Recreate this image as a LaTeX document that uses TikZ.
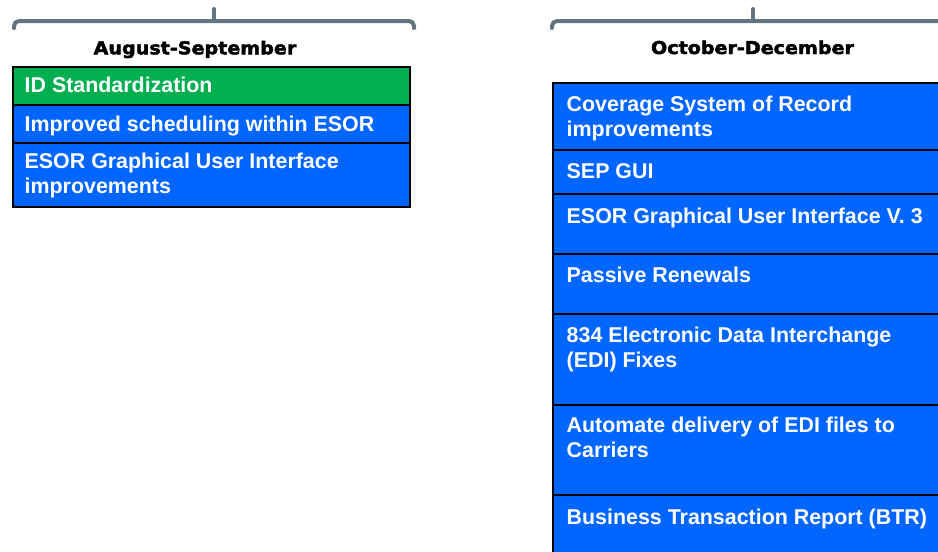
\documentclass[tikz,border=0pt]{standalone}
\usepackage{fontspec}
\setmainfont{Liberation Sans}
\newfontfamily\titlefont{DejaVu Sans}[FakeStretch=1.08,FakeBold=2.5]
\definecolor{cgreen}{HTML}{00B050}
\definecolor{cblue}{HTML}{0066FF}
\definecolor{cbrace}{HTML}{617480}
\begin{document}
\begin{tikzpicture}[x=1pt,y=-1pt,
  cell/.style={draw=black, line width=2pt, anchor=north west, inner sep=0pt, outer sep=0pt},
  lcell/.style={cell, minimum width=397pt},
  rcell/.style={cell, fill=cblue, minimum width=420pt},
  celltext/.style={anchor=base west, inner sep=0pt, text=white, font=\fontsize{21.4}{25.7}\selectfont\bfseries, align=left},
  title/.style={anchor=base, inner sep=0pt, font=\titlefont\fontsize{17.7}{20}\selectfont\bfseries},
  brace/.style={draw=cbrace, line width=4pt, line cap=round, rounded corners=5pt}
  ]
\useasboundingbox (0,0) rectangle (938,552);
% braces
\coordinate (lbl) at (14,28);
\coordinate (lbm) at (214,21);
\coordinate (lbr) at (414,28);
\coordinate (lbt) at (214,9);
\draw[brace] (lbl) |- (lbm) -| (lbr);
\draw[brace] (lbm) -- (lbt);
\coordinate (rbl) at (552,28);
\coordinate (rbm) at (753,21);
\coordinate (rbr) at (954,28);
\coordinate (rbt) at (753,9);
\draw[brace] (rbl) |- (rbm) -| (rbr);
\draw[brace] (rbm) -- (rbt);
% titles
\node[title] (t1) at (195,54.3) {August-September};
\node[title] (t2) at (752.5,54) {October-December};
% left column
\node[lcell, fill=cgreen, minimum height=38pt] (l1) at (13,67) {};
\node[lcell, fill=cblue, minimum height=38pt] (l2) at (13,105) {};
\node[lcell, fill=cblue, minimum height=64pt] (l3) at (13,143) {};
\node[celltext] (lt1) at ([shift={(11.5pt,-25.7pt)}]l1.north west) {ID Standardization};
\node[celltext] (lt2) at ([shift={(11.5pt,-26pt)}]l2.north west) {Improved scheduling within ESOR};
\node[celltext] (lt3) at ([shift={(11.5pt,-50.7pt)}]l3.north west) {ESOR Graphical User Interface\\improvements};
% right column
\node[rcell, minimum height=67pt] (r1) at (553,83) {};
\node[rcell, minimum height=44pt] (r2) at (553,150) {};
\node[rcell, minimum height=60pt] (r3) at (553,194) {};
\node[rcell, minimum height=60pt] (r4) at (553,254) {};
\node[rcell, minimum height=91pt] (r5) at (553,314) {};
\node[rcell, minimum height=90pt] (r6) at (553,405) {};
\node[rcell, minimum height=90pt] (r7) at (553,495) {};
\node[celltext] (rt1) at ([shift={(13.5pt,-53.7pt)}]r1.north west) {Coverage System of Record\\improvements};
\node[celltext] (rt2) at ([shift={(13.5pt,-28pt)}]r2.north west) {SEP GUI};
\node[celltext] (rt3) at ([shift={(13.5pt,-29pt)}]r3.north west) {ESOR Graphical User Interface V. 3};
\node[celltext] (rt4) at ([shift={(13.5pt,-28pt)}]r4.north west) {Passive Renewals};
\node[celltext] (rt5) at ([shift={(13.5pt,-53.7pt)}]r5.north west) {834 Electronic Data Interchange\\(EDI) Fixes};
\node[celltext] (rt6) at ([shift={(13.5pt,-52.7pt)}]r6.north west) {Automate delivery of EDI files to\\Carriers};
\node[celltext] (rt7) at ([shift={(13.5pt,-29pt)}]r7.north west) {Business Transaction Report (BTR)};
\end{tikzpicture}
\end{document}
